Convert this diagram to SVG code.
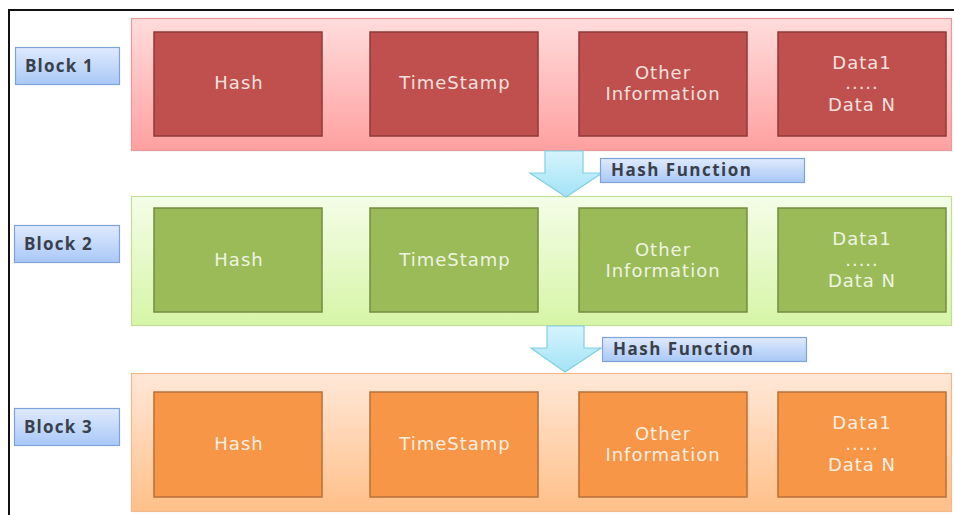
<svg xmlns="http://www.w3.org/2000/svg" width="954" height="515" viewBox="0 0 954 515">
  <defs>
    <linearGradient id="gRed" x1="0" y1="0" x2="0" y2="1">
      <stop offset="0" stop-color="#ffdcdc"/>
      <stop offset="1" stop-color="#ffa0a0"/>
    </linearGradient>
    <linearGradient id="gGreen" x1="0" y1="0" x2="0" y2="1">
      <stop offset="0" stop-color="#f4fde8"/>
      <stop offset="1" stop-color="#d6f5a6"/>
    </linearGradient>
    <linearGradient id="gOrange" x1="0" y1="0" x2="0" y2="1">
      <stop offset="0" stop-color="#ffe8d8"/>
      <stop offset="1" stop-color="#ffbf88"/>
    </linearGradient>
    <linearGradient id="gBlue" x1="0" y1="0" x2="0" y2="1">
      <stop offset="0" stop-color="#dfeafd"/>
      <stop offset="1" stop-color="#a9c8f7"/>
    </linearGradient>
    <linearGradient id="gArrow" x1="0" y1="0" x2="0" y2="1">
      <stop offset="0" stop-color="#d6f4fd"/>
      <stop offset="1" stop-color="#a2e3f6"/>
    </linearGradient>
  </defs>
  <style>
    .frame { fill: none; stroke: #111; stroke-width: 2; }
    .tag { fill: url(#gBlue); stroke: #7ea3d8; stroke-width: 1.2; }
    .tagText { font-family: "Open Sans", "DejaVu Sans", sans-serif; font-size: 17px; font-weight: 700; letter-spacing: 1.2px; fill: #39404b; }
    .fnText { letter-spacing: 1.5px; }
    .contRed { fill: url(#gRed); stroke: #e99a9a; stroke-width: 1.2; }
    .contGreen { fill: url(#gGreen); stroke: #c3dd98; stroke-width: 1.2; }
    .contOrange { fill: url(#gOrange); stroke: #f2b98c; stroke-width: 1.2; }
    .red { fill: #c0504d; stroke: #8e3a38; stroke-width: 1.5; }
    .green { fill: #9bbb59; stroke: #748c42; stroke-width: 1.5; }
    .orange { fill: #f79646; stroke: #b8703a; stroke-width: 1.5; }
    .cellText { font-family: "DejaVu Sans", "Open Sans", sans-serif; font-size: 18px; letter-spacing: 1px; text-anchor: middle; }
    .tRed { fill: #f5e0df; }
    .tGreen { fill: #eef4e0; }
    .tOrange { fill: #fdeee2; }
    .arrow { fill: url(#gArrow); stroke: #80cfe3; stroke-width: 1.2; }
  </style>

  <!-- outer frame -->
  <path class="frame" d="M9 515 V10 H954"/>

  <!-- Block 1 -->
  <g id="block1">
    <rect class="contRed" x="131.5" y="18.5" width="820" height="132"/>
    <rect class="red" x="154" y="32" width="168" height="104"/>
    <rect class="red" x="370" y="32" width="168" height="104"/>
    <rect class="red" x="579" y="32" width="168" height="104"/>
    <rect class="red" x="778" y="32" width="168" height="104"/>
    <g class="cellText tRed">
      <text x="239" y="89">Hash</text>
      <text x="455" y="89">TimeStamp</text>
      <text x="663" y="79">Other</text>
      <text x="663" y="100">Information</text>
      <text x="862" y="69">Data1</text>
      <text x="862" y="89">.....</text>
      <text x="862" y="111">Data N</text>
    </g>
  </g>
  <g id="label1">
    <rect class="tag" x="15.5" y="47.5" width="104" height="37"/>
    <text class="tagText" x="25" y="72">Block 1</text>
  </g>

  <!-- Block 2 -->
  <g id="block2">
    <rect class="contGreen" x="131.5" y="196.5" width="820" height="129"/>
    <rect class="green" x="154" y="208" width="168" height="104"/>
    <rect class="green" x="370" y="208" width="168" height="104"/>
    <rect class="green" x="579" y="208" width="168" height="104"/>
    <rect class="green" x="778" y="208" width="168" height="104"/>
    <g class="cellText tGreen">
      <text x="239" y="266">Hash</text>
      <text x="455" y="266">TimeStamp</text>
      <text x="663" y="256">Other</text>
      <text x="663" y="277">Information</text>
      <text x="862" y="245">Data1</text>
      <text x="862" y="266">.....</text>
      <text x="862" y="287">Data N</text>
    </g>
  </g>
  <g id="label2">
    <rect class="tag" x="14.5" y="225.5" width="105" height="37"/>
    <text class="tagText" x="24" y="250">Block 2</text>
  </g>

  <!-- Block 3 -->
  <g id="block3">
    <rect class="contOrange" x="131.5" y="373.5" width="820" height="138"/>
    <rect class="orange" x="154" y="392" width="168" height="105"/>
    <rect class="orange" x="370" y="392" width="168" height="105"/>
    <rect class="orange" x="579" y="392" width="168" height="105"/>
    <rect class="orange" x="778" y="392" width="168" height="105"/>
    <g class="cellText tOrange">
      <text x="239" y="450">Hash</text>
      <text x="455" y="450">TimeStamp</text>
      <text x="663" y="440">Other</text>
      <text x="663" y="461">Information</text>
      <text x="862" y="429">Data1</text>
      <text x="862" y="450">.....</text>
      <text x="862" y="471">Data N</text>
    </g>
  </g>
  <g id="label3">
    <rect class="tag" x="14.5" y="408.5" width="105" height="37"/>
    <text class="tagText" x="24" y="433">Block 3</text>
  </g>

  <!-- connectors: block arrows between blocks -->
  <g id="connectors">
    <path class="arrow" d="M545 151 H583 V173 H602 L566 197 L530 173 H545 Z"/>
    <path class="arrow" d="M547 326 H584 V348 H601 L565 372 L531 348 H547 Z"/>
  </g>

  <g id="hashfn1">
    <rect class="tag" x="600.5" y="158.5" width="204" height="24"/>
    <text class="tagText fnText" x="611" y="176">Hash Function</text>
  </g>
  <g id="hashfn2">
    <rect class="tag" x="602.5" y="337.5" width="204" height="24"/>
    <text class="tagText fnText" x="613" y="355">Hash Function</text>
  </g>
</svg>
